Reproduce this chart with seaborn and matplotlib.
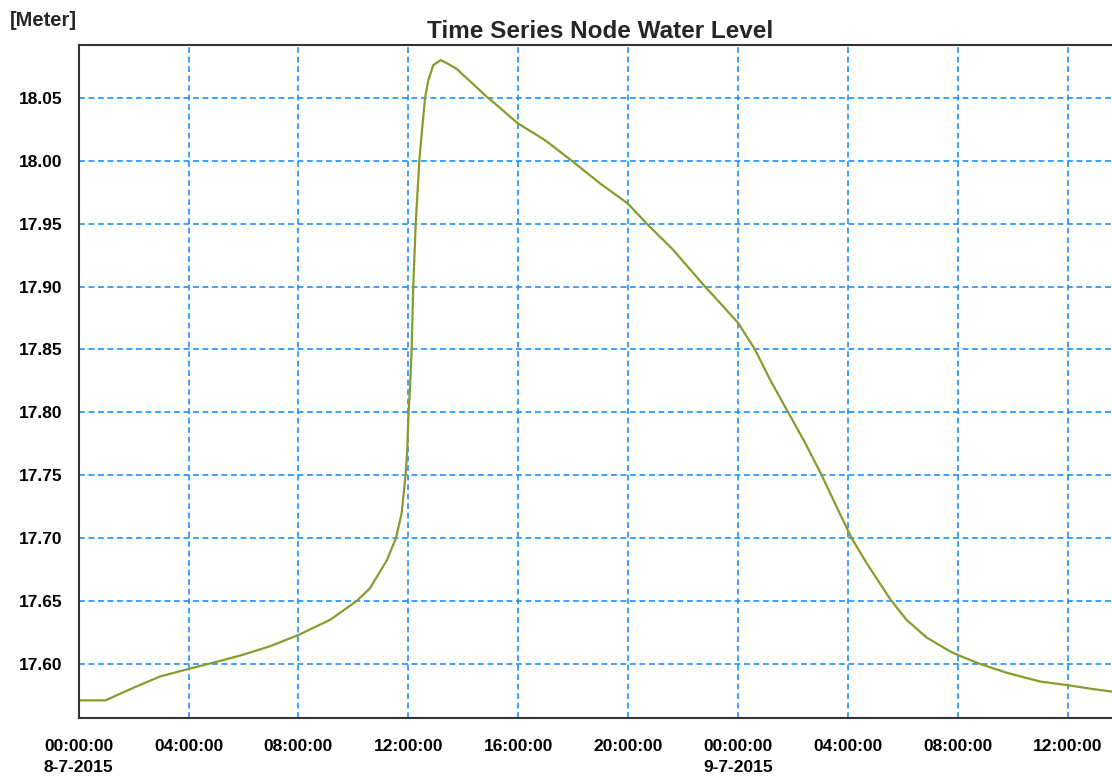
import pandas as pd
import seaborn as sns
import matplotlib.pyplot as plt
import matplotlib.dates as mdates
from matplotlib.ticker import FuncFormatter, MultipleLocator

# hours after 8-7-2015 00:00 and node water level [m]
hours = [0.0, 0.97, 1.99, 2.96, 4.00, 4.90, 5.94, 6.96, 8.00, 9.15,
         10.12, 10.60, 11.21, 11.55, 11.76, 11.90, 11.96, 12.01, 12.06, 12.12,
         12.18, 12.27, 12.40, 12.49, 12.61, 12.73, 12.91, 13.18, 13.45, 13.76,
         14.85, 15.34, 15.97, 17.00, 17.95, 18.98, 19.99, 20.68, 21.65, 22.80,
         23.35, 24.01, 24.62, 25.17, 25.83, 26.44, 27.05, 27.59, 28.14, 28.69,
         29.17, 29.56, 30.14, 30.87, 31.72, 32.02, 32.81, 33.78, 35.00, 36.04,
         36.93, 37.62]
level = [17.571, 17.571, 17.581, 17.590, 17.596, 17.601, 17.607, 17.614, 17.623, 17.635,
         17.650, 17.660, 17.682, 17.700, 17.720, 17.750, 17.769, 17.800, 17.818, 17.850,
         17.900, 17.950, 18.000, 18.022, 18.050, 18.064, 18.076, 18.080, 18.077, 18.073,
         18.051, 18.042, 18.030, 18.016, 18.000, 17.982, 17.966, 17.950, 17.929, 17.900,
         17.887, 17.871, 17.850, 17.826, 17.800, 17.776, 17.750, 17.725, 17.700, 17.680,
         17.664, 17.651, 17.635, 17.621, 17.610, 17.607, 17.600, 17.593, 17.586, 17.583,
         17.580, 17.578]

start = pd.Timestamp('2015-07-08 00:00:00')
title = 'Time Series Node Water Level'
unit = '[Meter]'


def fmt_time(x, pos):
    t = mdates.num2date(x)
    s = t.strftime('%H:%M:%S')
    if t.hour == 0:
        s += '\n' + f'{t.day}-{t.month}-{t.year}'
    return s


def main():
    sns.set_style('white')
    plt.rcParams['font.family'] = ['Liberation Sans', 'DejaVu Sans']
    plt.rcParams['font.weight'] = 'bold'

    df = pd.DataFrame({'time': start + pd.to_timedelta(hours, unit='h'), 'level': level})

    fig = plt.figure(figsize=(11.12, 7.76), dpi=100)
    ax = fig.add_axes([78.7 / 1112, 1 - 718 / 776, 1 - 78.7 / 1112, (718 - 45) / 776])

    sns.lineplot(data=df, x='time', y='level', ax=ax, color='#889C2E', linewidth=1.6)

    ax.set_xlim(start, start + pd.Timedelta(hours=37.62))
    ax.set_ylim(17.557, 18.092)

    ax.xaxis.set_major_locator(mdates.HourLocator(byhour=range(0, 24, 4)))
    ax.xaxis.set_minor_locator(mdates.HourLocator())
    ax.xaxis.set_major_formatter(FuncFormatter(fmt_time))
    ax.yaxis.set_major_locator(MultipleLocator(0.05))
    ax.yaxis.set_minor_locator(MultipleLocator(0.01))
    ax.yaxis.set_major_formatter(FuncFormatter(lambda v, p: f'{v:.2f}'))

    ax.grid(True, which='major', color='#1E90FF', linestyle=(0, (3.5, 2.2)), linewidth=1.2)
    ax.tick_params(which='major', direction='out', length=7, width=1.1, colors='#222222',
                   labelsize=12.5, labelcolor='black')
    ax.tick_params(which='minor', direction='out', length=4.5, width=1.1, colors='#222222')
    ax.tick_params(axis='x', which='major', pad=8)
    ax.tick_params(axis='y', which='major', pad=4.5)
    fig.canvas.draw()
    for lab in ax.get_xticklabels():
        lab.set_multialignment('left')
        lab.set_linespacing(1.5)
        lab.set_fontweight('bold')
    for lab in ax.get_yticklabels():
        lab.set_fontweight('bold')

    for side in ['left', 'bottom', 'top']:
        ax.spines[side].set_visible(True)
        ax.spines[side].set_color('#333333')
        ax.spines[side].set_linewidth(1.5)
    ax.spines['right'].set_visible(False)

    ax.set_xlabel('')
    ax.set_ylabel('')
    fig.text(600 / 1112, 1 - 31 / 776, title, ha='center', va='center',
             fontsize=17.5, fontweight='bold')
    fig.text(10 / 1112, 1 - 21 / 776, unit, ha='left', va='center',
             fontsize=14.5, fontweight='bold')

    fig.savefig('out.png', dpi=100)


if __name__ == '__main__':
    main()
